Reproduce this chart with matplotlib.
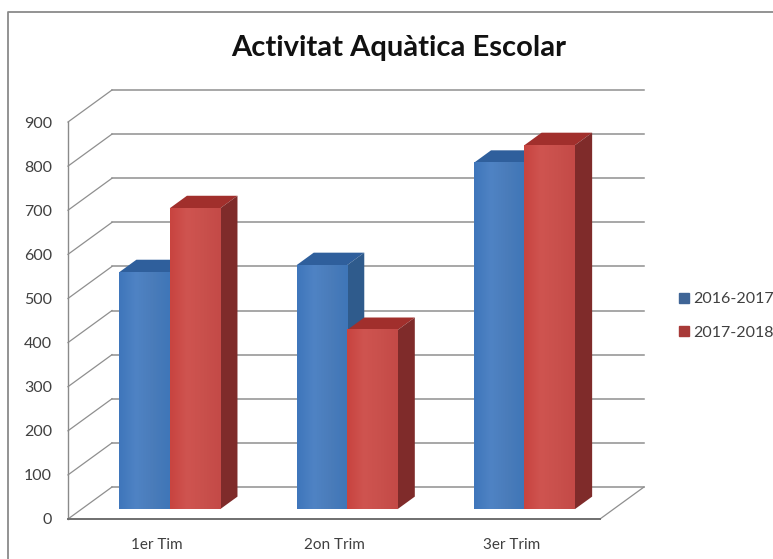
import numpy as np
import matplotlib
matplotlib.use("Agg")
import matplotlib.pyplot as plt
from matplotlib.colors import LinearSegmentedColormap
from matplotlib.patches import Polygon
from matplotlib.lines import Line2D

categories = ["1er Tim", "2on Trim", "3er Trim"]
series_names = ["2016-2017", "2017-2018"]
values_2016 = [537, 553, 785]
values_2017 = [682, 406, 825]
yticks = list(range(0, 1000, 100))

W, H = 773, 559
plt.rcParams['font.family'] = ['Lato', 'DejaVu Sans']
fig = plt.figure(figsize=(W / 100, H / 100), dpi=100, facecolor='white')
fig.add_artist(Line2D([8 / W, 8 / W, 1.0], [0.0, 1 - 12 / H, 1 - 12 / H], transform=fig.transFigure,
                      color='#8a8a8a', lw=1.3))

ax = fig.add_axes([68 / W, 1 - 519 / H, 532 / W, 397 / H])
ax.set_facecolor('none')
XMAX, YMAX = 3, 900
DX = 44 / (532 / 3)      # full depth, in category units
DY = 32 / (397 / 900)    # full depth, in value units


def P(x, y, d=0.0):
    return (x + d * DX, y + d * DY)


grid = '#8f8f8f'
for v in yticks:
    ax.plot(*zip(P(0, v, 1), P(XMAX, v, 1)), color=grid, lw=1.1, clip_on=False, zorder=1)
    ax.plot(*zip(P(0, v), P(0, v, 1)), color=grid, lw=0.9, clip_on=False, zorder=1)
ax.plot(*zip(P(XMAX, 0), P(XMAX, 0, 1)), color=grid, lw=0.9, clip_on=False, zorder=1)

BAR_W = 0.285
D0, D1 = 0.31, 0.70
series_style = [
    dict(values=values_2016, ramp=['#3f76bb', '#4f83c4', '#4a7cba', '#3f76b8'], top='#2f5f9c', side='#2f5b8c'),
    dict(values=values_2017, ramp=['#c8443f', '#cf5450', '#c9504c', '#c44a47'], top='#a12f2c', side='#7f2b2a'),
]

for i in range(len(categories)):
    for j, s in enumerate(series_style):
        v = s['values'][i]
        x0 = i + 0.5 - BAR_W + j * BAR_W - 0.003
        x1 = x0 + BAR_W
        ax.add_patch(Polygon([P(x0, v, D0), P(x1, v, D0), P(x1, v, D1), P(x0, v, D1)], fc=s['top'], ec='none',
                             clip_on=False, zorder=3 + j))
        ax.add_patch(Polygon([P(x1, 0, D0), P(x1, v, D0), P(x1, v, D1), P(x1, 0, D1)], fc=s['side'], ec='none',
                             clip_on=False, zorder=3 + j))
        xa, ya = P(x0, 0, D0)
        xb, yb = P(x1, v, D0)
        cmap = LinearSegmentedColormap.from_list('f', s['ramp'])
        ax.imshow(np.linspace(0, 1, 64).reshape(1, -1), cmap=cmap, aspect='auto', extent=(xa, xb, ya, yb),
                  origin='lower', interpolation='bilinear', clip_on=False, zorder=3 + j)

ax.set_xlim(0, XMAX)
ax.set_ylim(0, YMAX)
ax.set_xticks([0.5, 1.5, 2.5])
ax.set_xticklabels(categories, fontsize=11, color='#404040')
ax.set_yticks(yticks)
ax.set_yticklabels([str(t) for t in yticks], fontsize=11.5, color='#404040')
ax.tick_params(axis='x', length=0, pad=13.5)
ax.tick_params(axis='y', length=0, pad=11.5)
for side in ['top', 'right']:
    ax.spines[side].set_visible(False)
ax.spines['left'].set_color('#8a8a8a')
ax.spines['left'].set_linewidth(1.0)
ax.spines['bottom'].set_color('#6f6f6f')
ax.spines['bottom'].set_linewidth(1.4)

fig.text(398.5 / W, 1 - 48 / H, "Activitat Aquàtica Escolar", fontsize=21, fontweight='bold', color='#111111',
         ha='center', va='center')

handles = [Line2D([], [], marker='s', ls='none', ms=6.5, color=c) for c in ['#3f6596', '#a83a38']]
fig.legend(handles, series_names, loc='center left', bbox_to_anchor=(674 / W, 1 - 316 / H), frameon=False,
           fontsize=11.5, labelcolor='#404040', handletextpad=0.0, labelspacing=1.2, borderpad=0, borderaxespad=0,
           handlelength=1.2)

fig.savefig('out.png', dpi=100)
